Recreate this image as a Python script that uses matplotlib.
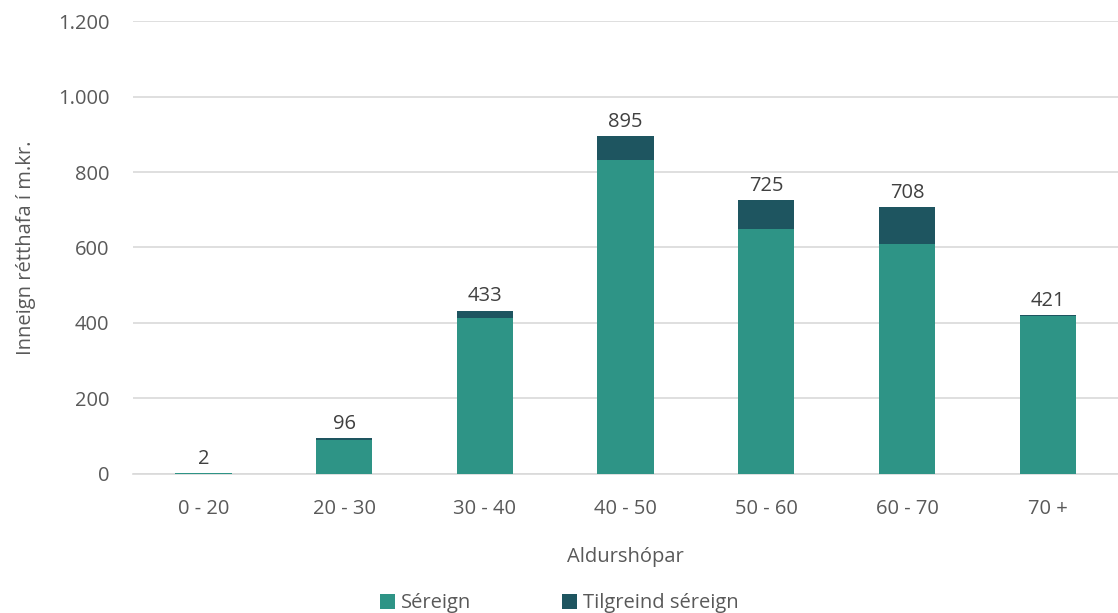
import matplotlib
matplotlib.use("Agg")
import matplotlib.pyplot as plt
from matplotlib.ticker import FuncFormatter

categories = ["0 - 20", "20 - 30", "30 - 40", "40 - 50", "50 - 60", "60 - 70", "70 +"]
sereign = [2, 91, 413, 832, 649, 608, 419]
tilgreind = [0, 5, 20, 63, 76, 100, 2]
totals = [2, 96, 433, 895, 725, 708, 421]

c_ser = "#2E9486"
c_til = "#1E5560"
txt = "#595959"

plt.rcParams['font.family'] = ['Open Sans', 'DejaVu Sans']
fs = 14.5

fig = plt.figure(figsize=(11.18, 6.13), dpi=100)
ax = fig.add_axes([0.119, 0.2268, 0.881, 0.7389])

x = list(range(len(categories)))
w = 0.4
ax.bar(x, sereign, w, color=c_ser, label="Séreign", zorder=3)
ax.bar(x, tilgreind, w, bottom=sereign, color=c_til, label="Tilgreind séreign", zorder=3)
for xi, t in zip(x, totals):
    ax.text(xi, t + 11, f"{t}", ha="center", va="bottom", fontsize=fs, color="#404040")

ax.set_ylim(0, 1200)
ax.set_xlim(-0.5, len(categories) - 0.5)
ax.set_yticks(range(0, 1201, 200))
ax.yaxis.set_major_formatter(FuncFormatter(lambda v, p: f"{int(v):,}".replace(",", ".")))
ax.set_xticks(x)
ax.set_xticklabels(categories)
ax.grid(axis="y", color="#D9D9D9", linewidth=1.2, zorder=0)
for s in ["top", "right", "left"]:
    ax.spines[s].set_visible(False)
ax.spines["bottom"].set_color("#D9D9D9")
ax.spines["bottom"].set_linewidth(1.2)
ax.tick_params(axis="both", length=0, labelsize=fs, colors=txt)
ax.tick_params(axis="y", pad=17)
ax.tick_params(axis="x", pad=18)
ax.set_xlabel("Aldurshópar", fontsize=fs, color=txt, labelpad=20)
ax.set_ylabel("Inneign rétthafa í m.kr.", fontsize=fs, color=txt, labelpad=16)

leg = fig.legend(loc="lower center", bbox_to_anchor=(0.5, -0.03), ncol=2, frameon=False,
                 fontsize=fs, handlelength=0.75, handleheight=0.75, columnspacing=4.5, handletextpad=0.3)
for t in leg.get_texts():
    t.set_color(txt)

fig.savefig("out.png", dpi=100)
